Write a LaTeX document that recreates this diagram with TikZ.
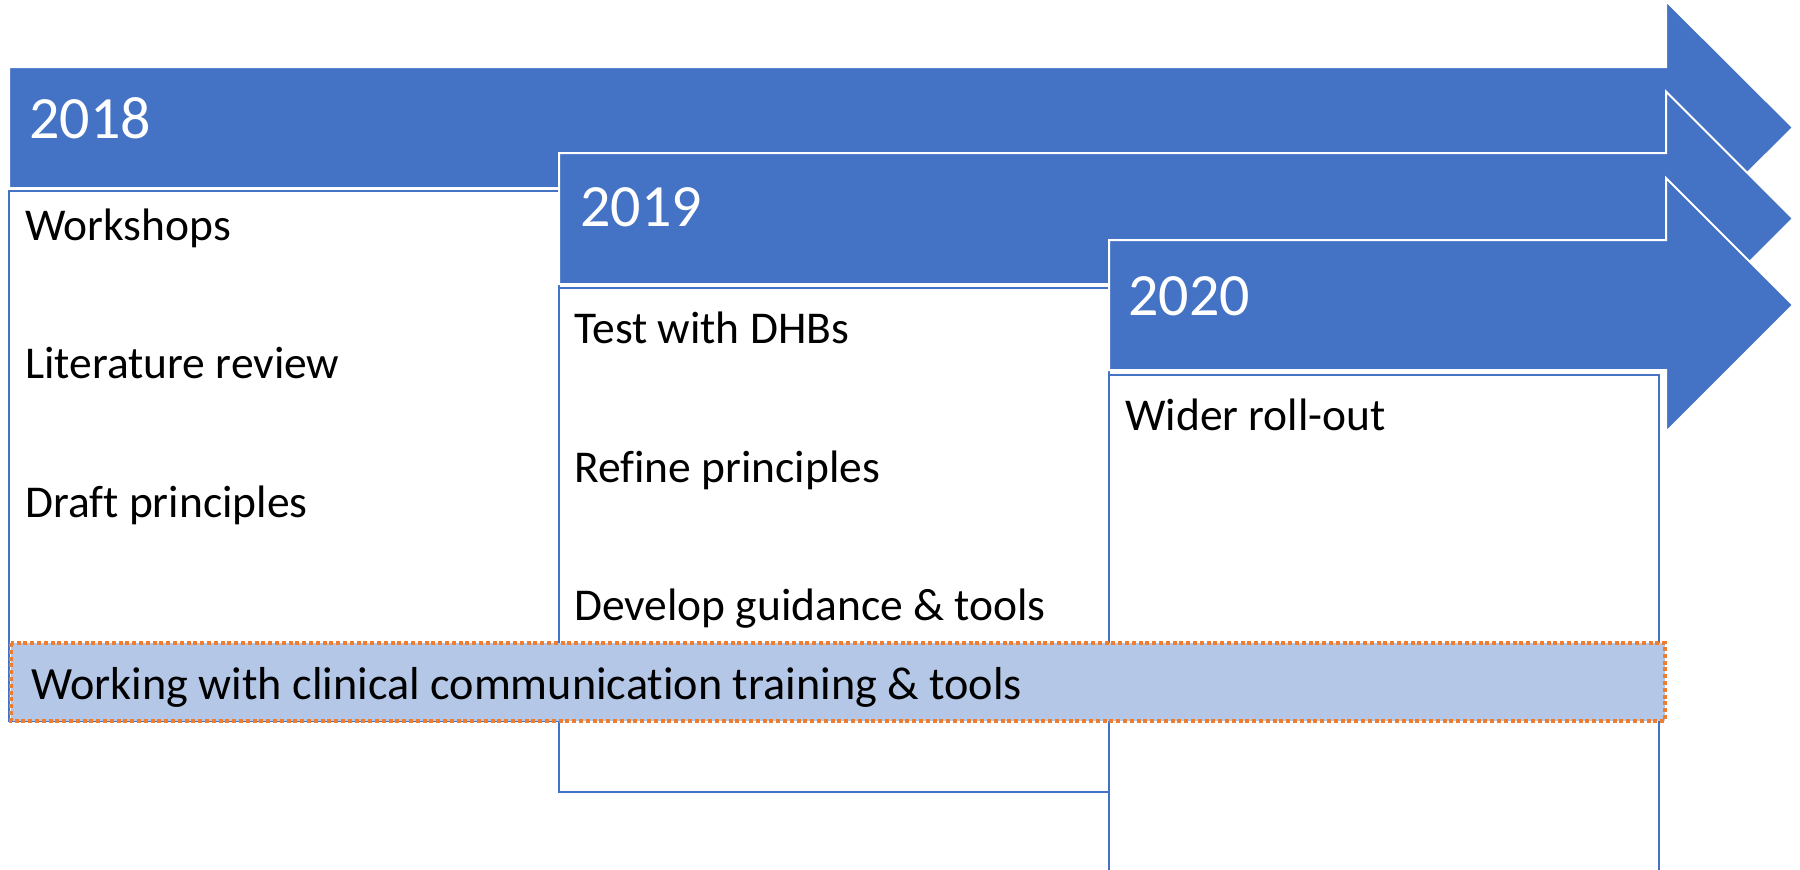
\documentclass[tikz,border=0pt]{standalone}
\usepackage{fontspec}
\setmainfont{Carlito}[Ligatures=NoCommon]
\definecolor{tlblue}{HTML}{4472C4}
\definecolor{tlfill}{HTML}{B4C7E7}
\definecolor{tlorange}{HTML}{ED7D31}
\begin{document}
\begin{tikzpicture}[x=1pt,y=-1pt,
  band/.style={fill=tlblue, draw=white, line width=2pt, line join=miter},
  stagebox/.style={fill=white, draw=tlblue, line width=1.6pt},
  yearlbl/.style={text=white, font=\fontsize{60}{72}\selectfont, anchor=base west, inner sep=0pt},
  itemlbl/.style={text=black, font=\fontsize{45.5}{54}\selectfont, anchor=base west, inner sep=0pt},
  trainbar/.style={fill=tlfill, draw=tlorange, line width=4pt, dash pattern=on 4pt off 2.8pt}
]
\useasboundingbox (0,0) rectangle (1800,870);

% 2018
\path[band] (9,67) -- (1666,67) -- (1666,1) -- (1793,127.5) -- (1666,254) -- (1666,188) -- (9,188) -- cycle;
\path[stagebox] (9,191) rectangle (559,721);
\node[yearlbl] (y18) at (29,138) {2018};
\node[itemlbl] (a1) at (25,240) {Workshops};
\node[itemlbl] (a2) at (25,378) {Literature review};
\node[itemlbl] (a3) at (25,517) {Draft principles};

% 2019
\path[band] (559,153) -- (1666,153) -- (1666,91.5) -- (1793,218.5) -- (1666,345.5) -- (1666,284) -- (559,284) -- cycle;
\path[stagebox] (559,288) rectangle (1109,792);
\node[yearlbl] (y19) at (580,226) {2019};
\node[itemlbl] (b1) at (574,343) {Test with DHBs};
\node[itemlbl] (b2) at (574,482) {Refine principles};
\node[itemlbl] (b3) at (574,620) {Develop guidance \& tools};

% 2020
\path[band] (1109,240) -- (1666,240) -- (1666,178) -- (1793,305) -- (1666,432) -- (1666,370) -- (1109,370) -- cycle;
\path[stagebox] (1109,375) rectangle (1659,880);
\node[yearlbl] (y20) at (1128,315) {2020};
\node[itemlbl] (c1) at (1125,430) {Wider roll-out};

% training bar
\path[trainbar] (11,643) rectangle (1665,721);
\node[itemlbl, font=\fontsize{46.2}{55}\selectfont] (t1) at (31,699) {Working with clinical communication training \& tools};
\end{tikzpicture}
\end{document}
